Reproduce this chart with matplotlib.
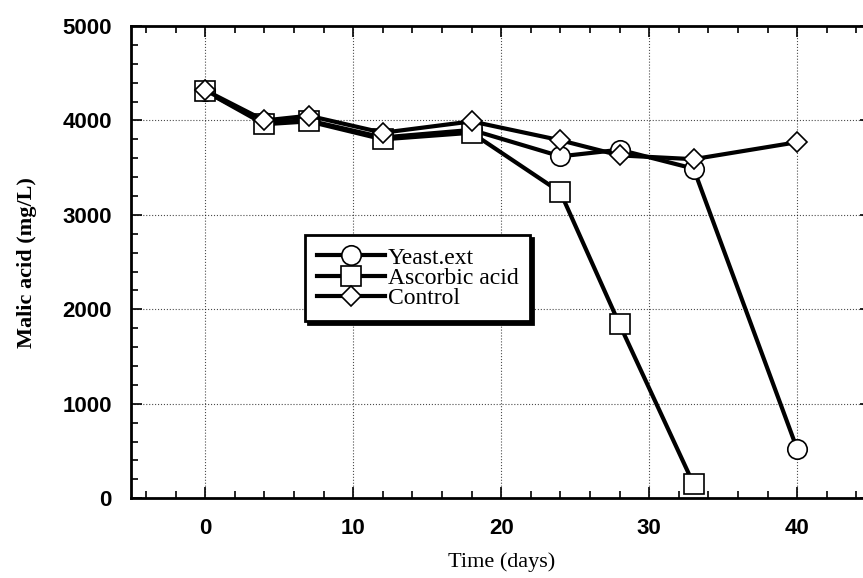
import matplotlib
matplotlib.use('Agg')
import matplotlib.pyplot as plt
from matplotlib.ticker import MultipleLocator

days = [0, 4, 7, 12, 18, 24, 28, 33, 40]
yeast_ext = [4310, 3980, 4000, 3820, 3900, 3620, 3690, 3490, 520]
ascorbic_days = [0, 4, 7, 12, 18, 24, 28, 33]
ascorbic_acid = [4310, 3960, 3990, 3800, 3870, 3240, 1840, 150]
control = [4320, 4000, 4050, 3870, 3990, 3790, 3630, 3590, 3770]

fig = plt.figure(figsize=(8.63, 5.78), dpi=100)
ax = fig.add_axes([0.152, 0.138, 0.8575, 0.817])

style = dict(color='black', lw=3, markerfacecolor='white', markeredgecolor='black',
             markeredgewidth=1.2)
ax.plot(days, yeast_ext, marker='o', markersize=14, label='Yeast.ext', **style)
ax.plot(ascorbic_days, ascorbic_acid, marker='s', markersize=14, label='Ascorbic acid', **style)
ax.plot(days, control, marker='D', markersize=10, label='Control', **style)

ax.set_xlim(-5, 45)
ax.set_ylim(0, 5000)
ax.xaxis.set_major_locator(MultipleLocator(10))
ax.xaxis.set_minor_locator(MultipleLocator(2))
ax.yaxis.set_major_locator(MultipleLocator(1000))
ax.yaxis.set_minor_locator(MultipleLocator(200))
ax.tick_params(which='both', direction='in', top=True, right=True, width=1.2)
ax.tick_params(which='major', length=8, labelsize=16, pad=14)
ax.tick_params(which='minor', length=5)
for lbl in ax.get_xticklabels() + ax.get_yticklabels():
    lbl.set_family('Liberation Sans')
    lbl.set_fontweight('semibold')
for s in ax.spines.values():
    s.set_linewidth(2)
ax.grid(True, which='major', linestyle=':', color='black', lw=0.8, alpha=0.7)

ax.set_xlabel('Time (days)', family='Liberation Serif', fontsize=16, labelpad=10)
ax.set_ylabel('Malic acid (mg/L)', family='Liberation Serif', fontsize=16,
              fontweight='bold', labelpad=18)

leg = ax.legend(loc='upper left', bbox_to_anchor=(0.235, 0.557), borderaxespad=0,
                prop={'family': 'Liberation Serif', 'size': 17}, numpoints=1,
                handlelength=2.9, handletextpad=0.1, labelspacing=-0.05,
                borderpad=0.5, fancybox=False, framealpha=1,
                shadow={'color': 'black', 'alpha': 1})
leg.get_frame().set_edgecolor('black')
leg.get_frame().set_linewidth(2)

fig.savefig('out.png', dpi=100)
